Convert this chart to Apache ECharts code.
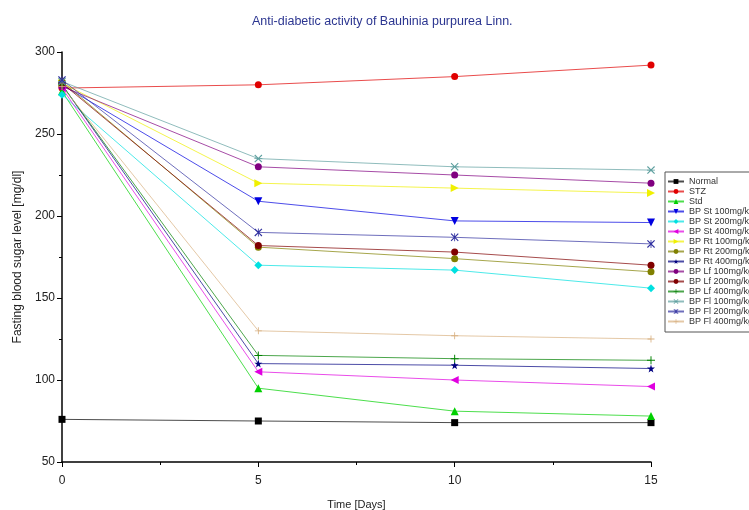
<!DOCTYPE html>
<html><head><meta charset="utf-8">
<script src="https://cdn.jsdelivr.net/npm/echarts@6/dist/echarts.min.js"></script>
<style>html,body{margin:0;padding:0;background:#fff}#c{width:749px;height:510px}</style>
</head><body><div id="c"></div>
<script>
const days = [0, 5, 10, 15];
const seriesNames = ['Normal','STZ','Std','BP St 100mg/kg','BP St 200mg/kg','BP St 400mg/kg','BP Rt 100mg/kg','BP Rt 200mg/kg','BP Rt 400mg/kg','BP Lf 100mg/kg','BP Lf 200mg/kg','BP Lf 400mg/kg','BP Fl 100mg/kg','BP Fl 200mg/kg','BP Fl 400mg/kg'];
const normal  = [76, 75, 74, 74];
const stz     = [278, 280, 285, 292];
const std     = [276, 95, 81, 78];
const st100   = [280, 209, 197, 196];
const st200   = [274, 170, 167, 156];
const st400   = [278, 105, 100, 96];
const rt100   = [281, 220, 217, 214];
const rt200   = [282, 181, 174, 166];
const rt400   = [280, 110, 109, 107];
const lf100   = [279, 230, 225, 220];
const lf200   = [281, 182, 178, 170];
const lf400   = [280, 115, 113, 112];
const fl100   = [282, 235, 230, 228];
const fl200   = [283, 190, 187, 183];
const fl400   = [279, 130, 127, 125];
const values = [normal, stz, std, st100, st200, st400, rt100, rt200, rt400, lf100, lf200, lf400, fl100, fl200, fl400];
const yTicks = [50, 100, 150, 200, 250, 300];
const xTicks = [0, 5, 10, 15];

const colors = ['#000000','#e00000','#00d000','#0000e0','#00e0e0','#e000e0','#f0f000','#808000','#000080','#800080','#800000','#008000','#5fa0a0','#3030a0','#d8b080'];
const STAR = 'path://M50,0 L61,35 L98,35 L68,57 L79,91 L50,70 L21,91 L32,57 L2,35 L39,35 Z';
const PLUS = 'path://M44,0 H56 V44 H100 V56 H56 V100 H44 V56 H0 V44 H44 Z';
const XBAR = 'path://M10,0 L50,40 L90,0 L100,10 L60,50 L100,90 L90,100 L50,60 L10,100 L0,90 L40,50 L0,10 Z M0,45 H100 V55 H0 Z';
const ASTER = 'path://M10,0 L50,40 L90,0 L100,10 L60,50 L100,90 L90,100 L50,60 L10,100 L0,90 L40,50 L0,10 Z M45,0 H55 V100 H45 Z';
const symbols = ['rect','circle','triangle','triangle','diamond','triangle','triangle','circle',STAR,'circle','circle',PLUS,XBAR,ASTER,PLUS];
const rotates = [0,0,0,180,0,90,-90,0,0,0,0,0,0,0,0];
const sizes = [7,7,8,8,8,8,8,7,8,7,7,8,8,8,7];

const series = seriesNames.map((n,i)=>({
  name: n, type: 'line',
  data: days.map((d,j)=>[d, values[i][j]]),
  symbol: symbols[i], symbolSize: sizes[i], symbolRotate: rotates[i],
  showAllSymbol: true,
  itemStyle: {color: colors[i]},
  lineStyle: {color: colors[i], width: 1, opacity: 0.7},
  emphasis: {disabled: true},
  animation: false
}));

const chart = echarts.init(document.getElementById('c'), null, {renderer:'canvas'});
chart.setOption({
  animation: false,
  backgroundColor: '#ffffff',
  title: {text: 'Anti-diabetic activity of Bauhinia purpurea Linn.', left: 247, top: 10,
    textStyle: {color: '#2b3590', fontSize: 12.5, fontWeight: 'normal', fontFamily: 'Liberation Sans, Arial'}},
  grid: {left: 62, right: 98, top: 52, bottom: 48, containLabel: false, outerBoundsMode: 'none'},
  legend: {
    orient: 'vertical', left: 665, top: 172,
    data: seriesNames,
    itemWidth: 16, itemHeight: 6, itemGap: 1,
    padding: [5, 4, 6, 2],
    borderColor: '#555', borderWidth: 1,
    textStyle: {fontSize: 9, lineHeight: 9, color: '#333', fontFamily: 'Liberation Sans, Arial'},
    selectedMode: false
  },
  xAxis: {
    type: 'value', min: 0, max: 15, interval: 5,
    name: 'Time [Days]', nameLocation: 'middle', nameGap: 37,
    nameTextStyle: {fontSize: 11, color: '#222', fontFamily: 'Liberation Sans, Arial'},
    axisLine: {show: true, lineStyle: {color: '#000', width: 1.5}},
    axisTick: {show: true, length: 5, lineStyle: {color: '#000'}},
    minorTick: {show: true, splitNumber: 2, length: 3, lineStyle: {color: '#000'}},
    splitLine: {show: false},
    axisLabel: {fontSize: 12, color: '#222', margin: 13, fontFamily: 'Liberation Sans, Arial',
      formatter: v => xTicks.includes(v) ? String(v) : ''}
  },
  yAxis: {
    type: 'value', min: 50, max: 300, interval: 50,
    name: 'Fasting blood sugar level [mg/dl]', nameLocation: 'middle', nameGap: 37,
    nameTextStyle: {fontSize: 12, color: '#222', fontFamily: 'Liberation Sans, Arial'},
    axisLine: {show: true, lineStyle: {color: '#000', width: 1.5}},
    axisTick: {show: true, length: 5, lineStyle: {color: '#000'}},
    minorTick: {show: true, splitNumber: 2, length: 3, lineStyle: {color: '#000'}},
    splitLine: {show: false},
    axisLabel: {fontSize: 12, color: '#222', margin: 7, fontFamily: 'Liberation Sans, Arial',
      formatter: v => yTicks.includes(v) ? String(v) : ''}
  },
  series: series
});
</script>
</body></html>
